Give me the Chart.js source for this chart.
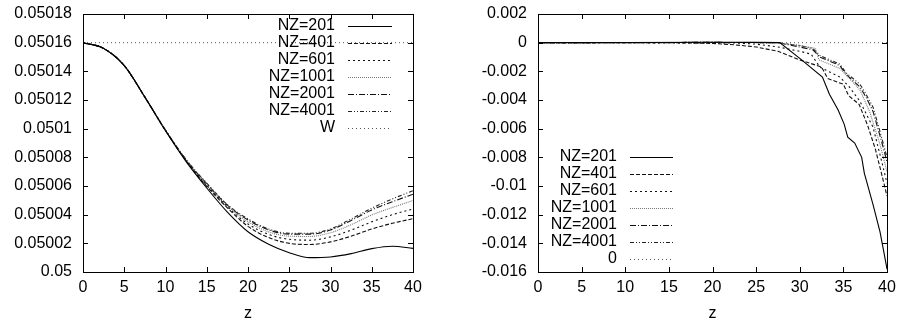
<!DOCTYPE html>
<html>
<head>
<meta charset="utf-8">
<script src="https://cdn.jsdelivr.net/npm/chart.js@4.4.1/dist/chart.umd.min.js"></script>
<style>
    html, body { margin: 0; padding: 0; background: #fff; }
    #wrap { position: relative; width: 902px; height: 320px; overflow: hidden; }
    canvas { position: absolute; top: 0; }
    #leftChart { left: 0; }
    #rightChart { left: 450px; }
</style>
</head>
<body>
<div id="wrap">
    <canvas id="leftChart" width="450" height="320"></canvas>
    <canvas id="rightChart" width="452" height="320"></canvas>
</div>
<script>
// ---- data ----
const seriesNames = ['NZ=201', 'NZ=401', 'NZ=601', 'NZ=1001', 'NZ=2001', 'NZ=4001'];

// left panel: z grid shared by all series
const zLeft     = [0, 2.5, 5, 7.5, 10, 12.5, 15, 17.5, 20, 22.5, 25, 27.5, 30, 32.5, 35, 37.5, 40];
const nz201Left = [0.05016, 0.050156, 0.050144, 0.050122, 0.0500985, 0.050077, 0.0500586, 0.0500418, 0.0500281, 0.0500194, 0.0500135, 0.05001, 0.0500105, 0.0500128, 0.0500163, 0.050018, 0.0500165];
const nz401Left = [0.05016, 0.050156, 0.050144, 0.050122, 0.0500987, 0.0500776, 0.0500598, 0.0500448, 0.0500318, 0.050024, 0.05002, 0.0500192, 0.050021, 0.050025, 0.05003, 0.050034, 0.0500372];
const nz601Left = [0.05016, 0.050156, 0.050144, 0.050122, 0.0500988, 0.0500778, 0.0500604, 0.0500455, 0.0500335, 0.0500262, 0.0500228, 0.0500222, 0.0500245, 0.0500292, 0.050035, 0.05004, 0.050044];
const nz1001Left = [0.05016, 0.050156, 0.050144, 0.050122, 0.0500989, 0.050078, 0.050061, 0.050046, 0.050035, 0.050028, 0.050025, 0.0500248, 0.0500274, 0.050033, 0.0500398, 0.050045, 0.0500499];
const nz2001Left = [0.05016, 0.050156, 0.050144, 0.050122, 0.050099, 0.0500782, 0.0500615, 0.0500466, 0.0500363, 0.0500294, 0.0500264, 0.0500264, 0.0500293, 0.050036, 0.0500433, 0.050049, 0.0500543];
const nz4001Left = [0.05016, 0.050156, 0.050144, 0.050122, 0.050099, 0.0500784, 0.050062, 0.050047, 0.050037, 0.05003, 0.050027, 0.050027, 0.05003, 0.050037, 0.0500445, 0.050051, 0.0500567];
const wZ = [0, 40];
const wLeft = [0.05016, 0.05016];

// right panel: each series has its own z points (piecewise curves)
const z201Right = [0, 10, 20, 25, 27.7, 30, 32.6, 33.4, 34.4, 35.1, 35.5, 36.3, 37.1, 37.4, 38.4, 39.2, 39.7, 40];
const v201Right = [0, 0, 0.00003, 0.00002, 0, -0.0011, -0.0024, -0.0036, -0.0047, -0.0057, -0.0066, -0.007, -0.008, -0.0091, -0.0113, -0.0132, -0.0148, -0.0158];
const z401Right = [0, 15, 20, 22.5, 25, 27.5, 30, 32.5, 33.2, 35, 35.6, 36.8, 37.8, 38.7, 39.4, 40];
const v401Right = [0, 0, -0.00005, -0.00015, -0.0003, -0.0006, -0.0012, -0.0017, -0.0025, -0.0029, -0.0037, -0.0043, -0.0058, -0.0075, -0.0092, -0.0107];
const z601Right = [0, 22.5, 25, 27.5, 30, 31.3, 32.3, 34.6, 35.7, 36.9, 38.4, 39.4, 40];
const v601Right = [0, -0.00002, -0.0001, -0.0003, -0.0006, -0.0008, -0.0017, -0.0024, -0.0031, -0.0041, -0.0059, -0.0083, -0.0098];
const z1001Right = [0, 20, 27.5, 30, 31.8, 32.2, 34.6, 35.7, 36.9, 38, 39.2, 40];
const v1001Right = [0, 0.00002, 0, -0.0002, -0.0004, -0.0012, -0.0018, -0.0025, -0.0033, -0.0048, -0.0071, -0.009];
const z2001Right = [0, 20, 27.5, 30, 31.5, 32.3, 34.6, 35.3, 36.9, 37.6, 38.4, 39.2, 40];
const v2001Right = [0, 0.00002, 0, -0.0003, -0.0005, -0.001, -0.0016, -0.0022, -0.0031, -0.0038, -0.0048, -0.0065, -0.0083];
const z4001Right = [0, 20, 27.5, 30, 31.5, 32.3, 34.6, 35.3, 36.9, 37.6, 38.4, 39.2, 40];
const v4001Right = [0, 0.00002, 0, -0.0002, -0.0004, -0.0009, -0.0015, -0.0021, -0.0029, -0.0036, -0.0045, -0.0062, -0.008];
const zeroRight = [0, 0];

// ticks
const xTicks = [0, 5, 10, 15, 20, 25, 30, 35, 40];
const yTicksLeft = [0.05, 0.05002, 0.05004, 0.05006, 0.05008, 0.0501, 0.05012, 0.05014, 0.05016, 0.05018];
const yLabelsLeft = ['0.05', '0.05002', '0.05004', '0.05006', '0.05008', '0.0501', '0.05012', '0.05014', '0.05016', '0.05018'];
const yTicksRight = [-0.016, -0.014, -0.012, -0.01, -0.008, -0.006, -0.004, -0.002, 0, 0.002];
const yLabelsRight = ['-0.016', '-0.014', '-0.012', '-0.01', '-0.008', '-0.006', '-0.004', '-0.002', '0', '0.002'];

// ---- styles ----
const lineDashes = [[], [4, 2], [2, 3], [1, 1], [6, 2, 1, 2], [4, 2, 1, 2, 1, 2]];
const lineColors = ['#000', '#111', '#111', '#777', '#111', '#222'];
const refDash = [1, 3];
const refColor = '#555';

Chart.defaults.font.family = '"Liberation Sans", Arial, Helvetica, sans-serif';
Chart.defaults.font.size = 16;
Chart.defaults.color = '#000';

function toPoints(zs, vs) {
    return zs.map((z, i) => ({ x: z, y: vs[i] }));
}

function makeDatasets(seriesList, refLabel, refVals, smooth) {
    const sets = seriesList.map((pts, i) => ({
        label: seriesNames[i],
        data: pts,
        borderColor: lineColors[i],
        borderDash: lineDashes[i],
        borderWidth: 1.1,
        pointRadius: 0,
        fill: false,
        cubicInterpolationMode: smooth ? 'monotone' : 'default',
        tension: 0
    }));
    sets.push({
        label: refLabel,
        data: toPoints(wZ, refVals),
        borderColor: refColor,
        borderDash: refDash,
        borderWidth: 1,
        pointRadius: 0,
        fill: false
    });
    return sets;
}

// inward ticks on all four sides + frame, gnuplot style
const framePlugin = {
    id: 'frame',
    afterDraw(chart) {
        const { ctx, chartArea: a, scales } = chart;
        const tl = 5;
        ctx.save();
        ctx.strokeStyle = '#000';
        ctx.lineWidth = 1;
        ctx.setLineDash([]);
        ctx.beginPath();
        scales.x.ticks.forEach(t => {
            const px = Math.round(scales.x.getPixelForValue(t.value)) + 0.5;
            ctx.moveTo(px, a.bottom); ctx.lineTo(px, a.bottom - tl);
            ctx.moveTo(px, a.top); ctx.lineTo(px, a.top + tl);
        });
        scales.y.ticks.forEach(t => {
            const py = Math.round(scales.y.getPixelForValue(t.value)) + 0.5;
            ctx.moveTo(a.left, py); ctx.lineTo(a.left + tl, py);
            ctx.moveTo(a.right, py); ctx.lineTo(a.right - tl, py);
        });
        ctx.stroke();
        ctx.strokeRect(Math.round(a.left) + 0.5, Math.round(a.top) + 0.5,
            Math.round(a.right - a.left), Math.round(a.bottom - a.top));
        ctx.restore();
    }
};

// key drawn inside the plot area
const keyPlugin = {
    id: 'plotKey',
    afterDatasetsDraw(chart, args, opts) {
        const { ctx, chartArea: a } = chart;
        const sets = chart.data.datasets;
        const n = sets.length;
        const textRight = opts.fromRight ? a.right - opts.textOffset : a.left + opts.textOffset;
        ctx.save();
        ctx.font = '16px "Liberation Sans", Arial, sans-serif';
        ctx.textAlign = 'right';
        ctx.textBaseline = 'middle';
        sets.forEach((ds, i) => {
            const y = opts.fromBottom ? a.bottom - opts.rowOffset - (n - 1 - i) * opts.rowGap
                                      : a.top + opts.rowOffset + i * opts.rowGap;
            ctx.fillStyle = '#000';
            ctx.fillText(ds.label, textRight, y);
            ctx.strokeStyle = ds.borderColor;
            ctx.lineWidth = ds.borderWidth;
            ctx.setLineDash(ds.borderDash || []);
            ctx.beginPath();
            ctx.moveTo(textRight + opts.gap, Math.round(y) + 0.5);
            ctx.lineTo(textRight + opts.gap + opts.lineLen, Math.round(y) + 0.5);
            ctx.stroke();
        });
        ctx.restore();
    }
};

function makeOptions(yTicks, yLabels, yMin, yMax, axisWidth, padRight, keyOpts) {
    return {
        responsive: false,
        animation: false,
        events: [],
        layout: { padding: { top: 14, right: padRight, left: 0, bottom: -2 } },
        plugins: {
            legend: { display: false },
            tooltip: { enabled: false },
            plotKey: keyOpts
        },
        scales: {
            x: {
                type: 'linear',
                min: 0,
                max: 40,
                grid: { display: false, drawTicks: false },
                border: { display: false },
                ticks: { padding: 6, maxRotation: 0, color: '#000' },
                afterBuildTicks: s => { s.ticks = xTicks.map(v => ({ value: v })); },
                afterFit: s => {
                    s.height = 50;
                    s.paddingLeft = 0; s.paddingRight = 0;
                },
                title: { display: true, text: 'z', padding: { top: -1, bottom: 0 }, font: { size: 16, lineHeight: 1 }, color: '#000' }
            },
            y: {
                type: 'linear',
                min: yMin,
                max: yMax,
                grid: { display: false, drawTicks: false },
                border: { display: false },
                ticks: {
                    padding: 11,
                    color: '#000',
                    callback: (v, i) => yLabels[i]
                },
                afterBuildTicks: s => { s.ticks = yTicks.map(v => ({ value: v })); },
                afterFit: s => {
                    s.width = axisWidth;
                    s.paddingTop = 0; s.paddingBottom = 0;
                }
            }
        }
    };
}

new Chart(document.getElementById('leftChart'), {
    type: 'line',
    data: {
        datasets: makeDatasets([
            toPoints(zLeft, nz201Left),
            toPoints(zLeft, nz401Left),
            toPoints(zLeft, nz601Left),
            toPoints(zLeft, nz1001Left),
            toPoints(zLeft, nz2001Left),
            toPoints(zLeft, nz4001Left)
        ], 'W', wLeft, true)
    },
    options: makeOptions(yTicksLeft, yLabelsLeft, 0.05, 0.05018, 83, 37,
        { fromRight: true, textOffset: 78, gap: 13, lineLen: 44, fromBottom: false, rowOffset: 12, rowGap: 17 }),
    plugins: [keyPlugin, framePlugin]
});

new Chart(document.getElementById('rightChart'), {
    type: 'line',
    data: {
        datasets: makeDatasets([
            toPoints(z201Right, v201Right),
            toPoints(z401Right, v401Right),
            toPoints(z601Right, v601Right),
            toPoints(z1001Right, v1001Right),
            toPoints(z2001Right, v2001Right),
            toPoints(z4001Right, v4001Right)
        ], '0', zeroRight, false)
    },
    options: makeOptions(yTicksRight, yLabelsRight, -0.016, 0.002, 88, 15,
        { fromRight: false, textOffset: 79, gap: 13, lineLen: 43, fromBottom: true, rowOffset: 13, rowGap: 17 }),
    plugins: [keyPlugin, framePlugin]
});
</script>
</body>
</html>
